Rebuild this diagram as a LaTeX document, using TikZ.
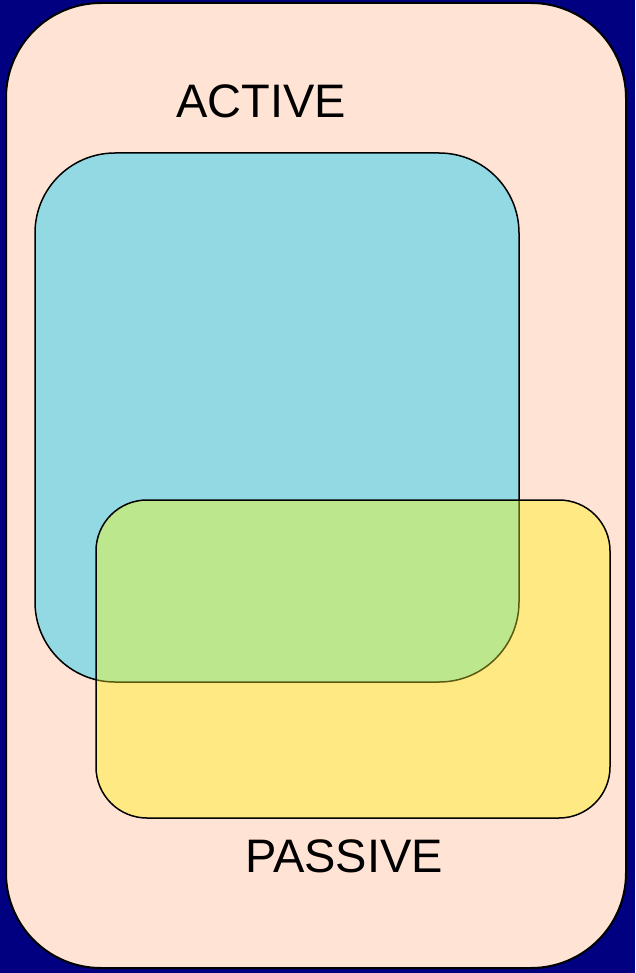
\documentclass[tikz,border=0pt]{standalone}
\usepackage{fontspec}
\setmainfont{Liberation Sans}
\definecolor{navybg}{HTML}{000080}
\definecolor{peach}{HTML}{FFE4D5}
\definecolor{skyfill}{HTML}{93D9E4}
\definecolor{sunfill}{HTML}{FFE982}
\definecolor{mixfill}{HTML}{BDE78D}
\definecolor{oliveline}{HTML}{5A5A10}
\begin{document}
\begin{tikzpicture}[x=1pt,y=-1pt,line cap=round,line join=round]
  \fill[navybg] (0,0) rectangle (635,973);
  \draw[fill=peach,line width=2pt,rounded corners=95pt] (6,3) rectangle (626,968);
  \draw[fill=skyfill,line width=1.5pt,rounded corners=80pt] (35,153) rectangle (519,682);
  \fill[sunfill,rounded corners=51pt] (96,500) rectangle (610,818);
  \begin{scope}
    \clip[rounded corners=51pt] (96,500) rectangle (610,818);
    \fill[mixfill,rounded corners=80pt] (35,153) rectangle (519,682);
    \draw[oliveline,line width=1.5pt,rounded corners=80pt] (35,153) rectangle (519,682);
  \end{scope}
  \draw[line width=1.5pt,rounded corners=51pt] (96,500) rectangle (610,818);
  \node (active) at (261,101) {\fontsize{47}{56}\selectfont ACTIVE};
  \node (passive) at (344,856) {\fontsize{47}{56}\selectfont PASSIVE};
\end{tikzpicture}
\end{document}
